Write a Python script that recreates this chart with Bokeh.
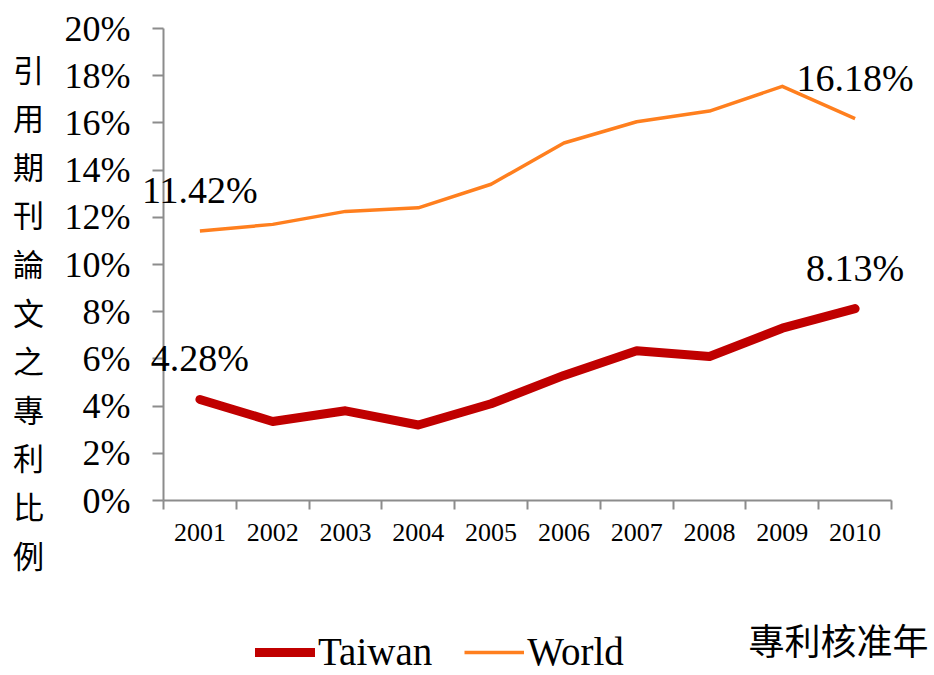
from bokeh.plotting import figure
from bokeh.models import (FixedTicker, PrintfTickFormatter, Label, Legend, LegendItem,
                          Range1d, LinearAxis)
from bokeh.embed import file_html
from bokeh.resources import INLINE

years = [2001, 2002, 2003, 2004, 2005, 2006, 2007, 2008, 2009, 2010]
taiwan = [4.28, 3.35, 3.8, 3.2, 4.1, 5.3, 6.35, 6.1, 7.3, 8.13]
world = [11.42, 11.7, 12.25, 12.4, 13.4, 15.15, 16.05, 16.5, 17.55, 16.18]
y_ticks = [0, 2, 4, 6, 8, 10, 12, 14, 16, 18, 20]
y_title = "引用期刊論文之專利比例"
x_title = "專利核准年"

SERIF = "Liberation Serif"
CJK = "Noto Sans CJK TC"
AXIS = "#8c8c8c"

W, H = 934, 675
# plot-area placement in pixels (layout only)
FL, FR, FT, FB = 163, 891, 28, 500
x0, x1 = years[0] - 0.5, years[-1] + 0.5
y0, y1 = y_ticks[0], y_ticks[-1]
xs = (FR - FL) / (x1 - x0)
ys = (FB - FT) / (y1 - y0)

p = figure(width=W, height=H, output_backend="svg", toolbar_location=None,
           x_axis_location=None, y_axis_location=None,
           x_range=Range1d(x0 - FL / xs, x1 + (W - FR) / xs),
           y_range=Range1d(y0 - (H - FB) / ys, y1 + FT / ys),
           min_border=0)
p.outline_line_color = None
p.grid.visible = False
p.background_fill_color = "white"
p.border_fill_color = "white"

# x axis (ticks between categories)
xaxis = LinearAxis(fixed_location=y0, bounds=(x0, x1),
                   ticker=FixedTicker(ticks=years, minor_ticks=[y - 0.5 for y in years] + [x1]))
xaxis.major_label_overrides = {y: str(y) for y in years}
xaxis.major_tick_out = 0
xaxis.major_tick_in = 0
xaxis.minor_tick_out = 9
xaxis.minor_tick_in = 0
xaxis.minor_tick_line_color = AXIS
xaxis.minor_tick_line_width = 2
xaxis.axis_line_color = AXIS
xaxis.axis_line_width = 2
xaxis.major_label_text_font = SERIF
xaxis.major_label_text_font_size = "26px"
xaxis.major_label_text_color = "black"
xaxis.major_label_standoff = 14
p.add_layout(xaxis, "below")

# y axis
yaxis = LinearAxis(fixed_location=x0, bounds=(y0, y1),
                   ticker=FixedTicker(ticks=y_ticks, minor_ticks=[]),
                   formatter=PrintfTickFormatter(format="%d%%"))
yaxis.major_tick_out = 11
yaxis.major_tick_in = 0
yaxis.major_tick_line_color = AXIS
yaxis.major_tick_line_width = 2
yaxis.axis_line_color = AXIS
yaxis.axis_line_width = 2
yaxis.major_label_text_font = SERIF
yaxis.major_label_text_font_size = "36px"
yaxis.major_label_text_color = "black"
yaxis.major_label_standoff = 22
p.add_layout(yaxis, "left")

r_tw = p.line(years, taiwan, line_color="#C00000", line_width=9, line_cap="round", line_join="round")
r_w = p.line(years, world, line_color="#FF7F1E", line_width=3.5, line_join="round")

# data labels on first and last points
for series in (taiwan, world):
    for i in (0, len(years) - 1):
        p.add_layout(Label(x=years[i], y=series[i], text=f"{series[i]:.2f}%", text_align="center",
                           text_baseline="bottom", y_offset=20, text_font=SERIF,
                           text_font_size="38px", text_color="black"))

# vertical y title (stacked characters)
p.add_layout(Label(x=28, y=H - 45, x_units="screen", y_units="screen", text="\n".join(y_title),
                   text_align="center", text_baseline="top", text_font=CJK,
                   text_font_size="31px", text_line_height=1.08, text_color="black"))

# x title
p.add_layout(Label(x=748, y=H - 638, x_units="screen", y_units="screen", text=x_title,
                   text_align="left", text_baseline="middle", text_font=CJK,
                   text_font_size="36px", text_color="black"))

legend = Legend(items=[LegendItem(label="Taiwan", renderers=[r_tw]),
                       LegendItem(label="World", renderers=[r_w])],
                location=(255, 1), orientation="horizontal",
                label_text_font=SERIF, label_text_font_size="39px", label_text_color="black",
                glyph_width=60, glyph_height=34, label_standoff=3, spacing=32,
                padding=0, margin=0, border_line_color=None, background_fill_alpha=0)
p.add_layout(legend)

open("out.html", "w").write(file_html(p, INLINE))
